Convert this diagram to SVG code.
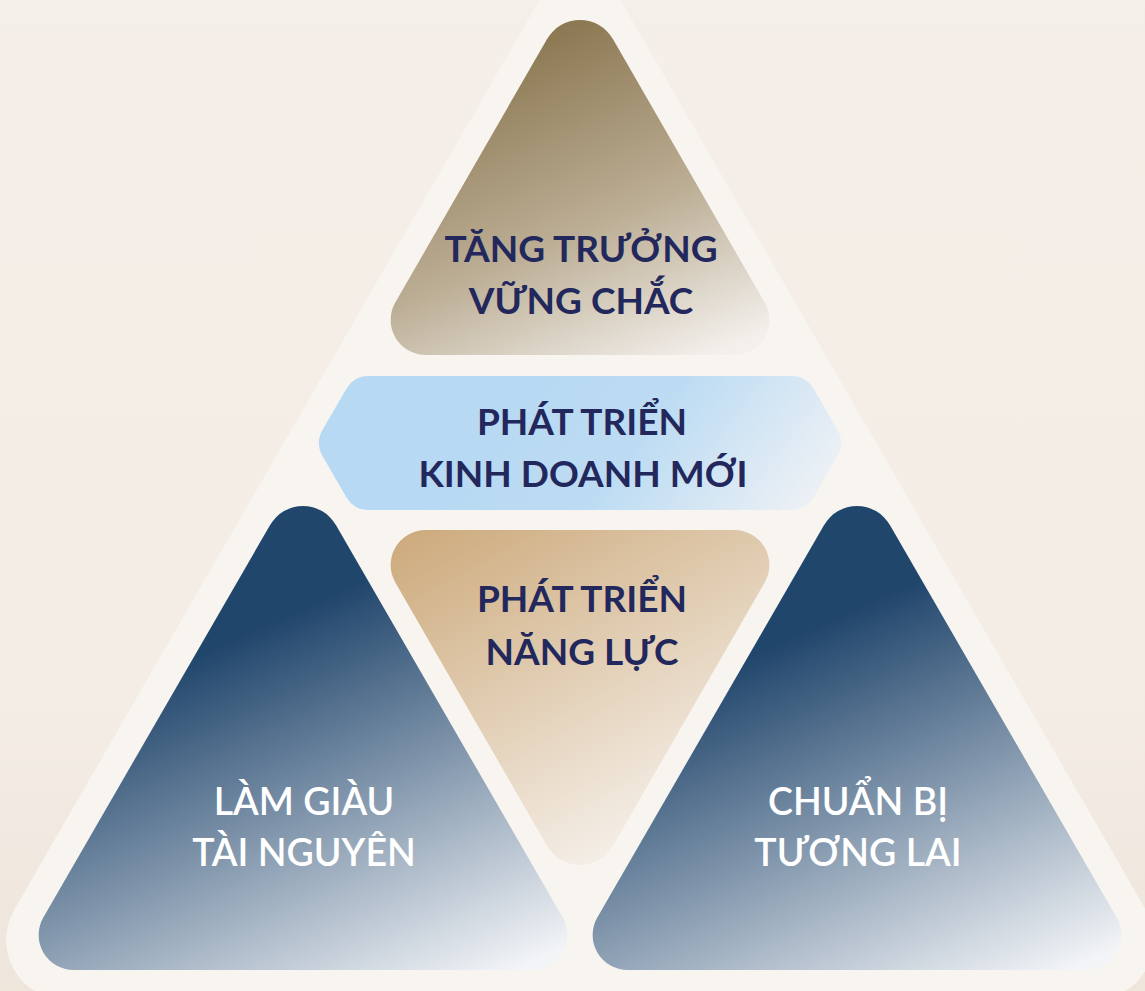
<svg xmlns="http://www.w3.org/2000/svg" width="1145" height="991" viewBox="0 0 1145 991">
<defs>
<linearGradient id="bg" x1="0" y1="0" x2="0" y2="1">
<stop offset="0" stop-color="#f5efe9"/>
<stop offset="0.7" stop-color="#f4ede6"/>
<stop offset="1" stop-color="#eee5db"/>
</linearGradient>
<linearGradient id="gTop" gradientUnits="userSpaceOnUse" x1="560" y1="20" x2="700" y2="360">
<stop offset="0" stop-color="#8a7650"/>
<stop offset="0.55" stop-color="#bcae95"/>
<stop offset="1" stop-color="#f3f0ec"/>
</linearGradient>
<linearGradient id="gHex" gradientUnits="userSpaceOnUse" x1="520" y1="380" x2="760" y2="560">
<stop offset="0" stop-color="#b8d9f3"/>
<stop offset="0.45" stop-color="#bddcf3"/>
<stop offset="1" stop-color="#ebf0f5"/>
</linearGradient>
<linearGradient id="gMid" gradientUnits="userSpaceOnUse" x1="430" y1="530" x2="620" y2="880">
<stop offset="0" stop-color="#ceac7f"/>
<stop offset="1" stop-color="#f7f3ee"/>
</linearGradient>
<linearGradient id="gNavL" gradientUnits="userSpaceOnUse" x1="300" y1="610" x2="470" y2="990">
<stop offset="0" stop-color="#21466c"/>
<stop offset="1" stop-color="#f2f4f7"/>
</linearGradient>
<linearGradient id="gNavR" gradientUnits="userSpaceOnUse" x1="854" y1="610" x2="1024" y2="990">
<stop offset="0" stop-color="#21466c"/>
<stop offset="1" stop-color="#f2f4f7"/>
</linearGradient>
</defs>
<style>
.lbl{font-family:Lato,"Open Sans","Liberation Sans",sans-serif;font-weight:700;font-size:37px;text-anchor:middle}
.dark{fill:#23285c}
.light{fill:#ffffff;font-weight:600;font-size:37.5px}
</style>
<rect x="0" y="0" width="1145" height="991" fill="url(#bg)"/>
<path id="outer" d="M614.6,-10 L1145.8,910 A60,60 0 0 1 1093.9,1000 L66.1,1000 A60,60 0 0 1 14.2,910 L545.4,-10 A40,40 0 0 1 614.6,-10 Z" fill="#f8f5f1"/>
<g id="node-tang-truong">
<path d="M612.9,39 L764.7,302.5 A35,35 0 0 1 734.4,355 L425.6,355 A35,35 0 0 1 395.3,302.5 L547.1,39 A38,38 0 0 1 612.9,39 Z" fill="url(#gTop)"/>
<text class="lbl dark" x="581" y="262">TĂNG TRƯỞNG</text>
<text class="lbl dark" x="581" y="314">VỮNG CHẮC</text>
</g>
<g id="node-kinh-doanh">
<path d="M322.2,430.5 L346.5,388.5 A25,25 0 0 1 368.1,376 L791.9,376 A25,25 0 0 1 813.5,388.5 L837.8,430.5 A25,25 0 0 1 837.8,455.5 L813.5,497.5 A25,25 0 0 1 791.9,510 L368.1,510 A25,25 0 0 1 346.5,497.5 L322.2,455.5 A25,25 0 0 1 322.2,430.5 Z" fill="url(#gHex)"/>
<text class="lbl dark" x="582" y="435">PHÁT TRIỂN</text>
<text class="lbl dark" x="583" y="487">KINH DOANH MỚI</text>
</g>
<g id="node-nang-luc">
<path d="M425.6,530 L734.4,530 A35,35 0 0 1 764.7,582.5 L612.9,846 A38,38 0 0 1 547.1,846 L395.3,582.5 A35,35 0 0 1 425.6,530 Z" fill="url(#gMid)"/>
<text class="lbl dark" x="582" y="612">PHÁT TRIỂN</text>
<text class="lbl dark" x="582" y="665">NĂNG LỰC</text>
</g>
<g id="node-tai-nguyen">
<path d="M335.9,525 L562.7,917.5 A35,35 0 0 1 532.4,970 L73.6,970 A35,35 0 0 1 43.3,917.5 L270.1,525 A38,38 0 0 1 335.9,525 Z" fill="url(#gNavL)"/>
<text class="lbl light" x="304" y="815">LÀM GIÀU</text>
<text class="lbl light" x="304" y="866">TÀI NGUYÊN</text>
</g>
<g id="node-tuong-lai">
<path d="M889.9,525 L1116.7,917.5 A35,35 0 0 1 1086.4,970 L627.6,970 A35,35 0 0 1 597.3,917.5 L824.1,525 A38,38 0 0 1 889.9,525 Z" fill="url(#gNavR)"/>
<text class="lbl light" x="858" y="815">CHUẨN BỊ</text>
<text class="lbl light" x="858" y="866">TƯƠNG LAI</text>
</g>
<g id="connectors"/>
</svg>
